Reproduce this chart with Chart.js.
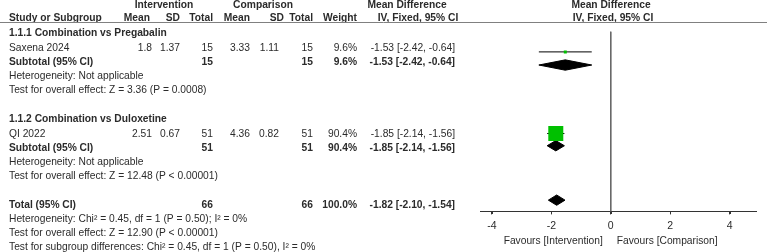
<!DOCTYPE html>
<html>
<head>
<meta charset="utf-8">
<script src="https://cdn.jsdelivr.net/npm/chart.js@4"></script>
<style>
  html, body { margin: 0; padding: 0; background: #fff; }
  canvas { display: block; }
</style>
</head>
<body>
<canvas id="forestPlot" width="767" height="252"></canvas>
<script>
// data
const subgroups = ['1.1.1 Combination vs Pregabalin', '1.1.2 Combination vs Duloxetine'];
const studies = ['Saxena 2024', 'QI 2022'];
const intMean = [1.8, 2.51];
const intSD = [1.37, 0.67];
const intTotal = [15, 51];
const cmpMean = [3.33, 4.36];
const cmpSD = [1.11, 0.82];
const cmpTotal = [15, 51];
const weights = [9.6, 90.4];
const meanDiff = [-1.53, -1.85];
const ciLow = [-2.42, -2.14];
const ciHigh = [-0.64, -1.56];
const subHeterogeneity = ['Heterogeneity: Not applicable', 'Heterogeneity: Not applicable'];
const subOverall = ['Test for overall effect: Z = 3.36 (P = 0.0008)', 'Test for overall effect: Z = 12.48 (P < 0.00001)'];
const totalIntN = 66;
const totalCmpN = 66;
const totalWeight = 100.0;
const totalMd = -1.82;
const totalLow = -2.10;
const totalHigh = -1.54;
const totalNotes = [
  'Heterogeneity: Chi\u00b2 = 0.45, df = 1 (P = 0.50); I\u00b2 = 0%',
  'Test for overall effect: Z = 12.90 (P < 0.00001)',
  'Test for subgroup differences: Chi\u00b2 = 0.45, df = 1 (P = 0.50), I\u00b2 = 0%',
];
const xTicks = [-4, -2, 0, 2, 4];
const nullEffect = 0;
const favourLabels = ['Favours [Intervention]', 'Favours [Comparison]'];

// layout (pixel rows) and styles
const textRows = {
  head1: 5, head2: 18,
  sub: [33, 119], study: [48, 134], subtotal: [62, 148], het: [76, 162], overall: [90, 176],
  total: 205, notes: [219, 233, 247],
};
const markRows = { study: [44, 131], subtotal: [58, 144], total: [202] };
const headerLineY = 22.5;
const axisY = 214;
const squareSide = [3, 15];
const diamondHalf = 5.5;
const textColor = '#2b2b2b';
const green = '#00c000';
const fontFamily = '"Liberation Sans", Arial, sans-serif';
const fontSize = 10.25;
const regular = `${fontSize}px ${fontFamily}`;
const bold = `bold ${fontSize}px ${fontFamily}`;

const fmtCi = (m, l, h) => `${m.toFixed(2)} [${l.toFixed(2)}, ${h.toFixed(2)}]`;

const datasets = [];

// study squares
datasets.push({
  type: 'scatter',
  order: 0,
  data: meanDiff.map((m, i) => ({ x: m, y: markRows.study[i] })),
  pointStyle: 'rect',
  pointRadius: squareSide.map((s) => s / (2 * Math.SQRT1_2)),
  pointBackgroundColor: green,
  pointBorderWidth: 0,
  showLine: false,
});

// confidence interval whiskers
studies.forEach((s, i) => {
  datasets.push({
    type: 'line',
    order: 1,
    data: [{ x: ciLow[i], y: markRows.study[i] }, { x: ciHigh[i], y: markRows.study[i] }],
    borderColor: '#000',
    borderWidth: 1,
    pointRadius: 0,
  });
});

// subtotal and total diamonds
const diamonds = meanDiff.map((m, i) => ({ m, l: ciLow[i], h: ciHigh[i], y: markRows.subtotal[i] }));
diamonds.push({ m: totalMd, l: totalLow, h: totalHigh, y: markRows.total[0] });
diamonds.forEach((d) => {
  datasets.push({
    type: 'line',
    order: 2,
    data: [
      { x: d.l, y: d.y },
      { x: d.m, y: d.y - diamondHalf },
      { x: d.h, y: d.y },
      { x: d.m, y: d.y + diamondHalf },
      { x: d.l, y: d.y },
    ],
    borderColor: '#000',
    backgroundColor: '#000',
    borderWidth: 1,
    fill: 'shape',
    pointRadius: 0,
    tension: 0,
  });
});

// line of no effect
datasets.push({
  type: 'line',
  order: 3,
  data: [{ x: nullEffect, y: headerLineY }, { x: nullEffect, y: axisY }],
  borderColor: '#666',
  borderWidth: 1,
  pointRadius: 0,
});

const tablePlugin = {
  id: 'tablePlugin',
  afterDraw(chart) {
    const { ctx } = chart;
    const x = chart.scales.x;
    const put = (text, px, py, align, font) => {
      ctx.font = font || regular;
      ctx.textAlign = align || 'left';
      ctx.fillText(text, px, py);
    };
    ctx.save();
    ctx.fillStyle = textColor;
    ctx.textBaseline = 'middle';

    // header
    put('Intervention', 164, textRows.head1, 'center', bold);
    put('Comparison', 263, textRows.head1, 'center', bold);
    put('Mean Difference', 407, textRows.head1, 'center', bold);
    put('Mean Difference', 611, textRows.head1, 'center', bold);
    put('Study or Subgroup', 9, textRows.head2, 'left', bold);
    put('Mean', 150, textRows.head2, 'right', bold);
    put('SD', 180, textRows.head2, 'right', bold);
    put('Total', 213, textRows.head2, 'right', bold);
    put('Mean', 250, textRows.head2, 'right', bold);
    put('SD', 284, textRows.head2, 'right', bold);
    put('Total', 313, textRows.head2, 'right', bold);
    put('Weight', 357, textRows.head2, 'right', bold);
    put('IV, Fixed, 95% CI', 418, textRows.head2, 'center', bold);
    put('IV, Fixed, 95% CI', 613, textRows.head2, 'center', bold);

    ctx.strokeStyle = '#808080';
    ctx.lineWidth = 1;
    ctx.beginPath();
    ctx.moveTo(0, headerLineY);
    ctx.lineTo(chart.width, headerLineY);
    ctx.stroke();

    subgroups.forEach((name, i) => {
      put(name, 9, textRows.sub[i], 'left', bold);
      const y = textRows.study[i];
      put(studies[i], 9, y);
      put(String(intMean[i]), 152, y, 'right');
      put(String(intSD[i]), 180, y, 'right');
      put(String(intTotal[i]), 213, y, 'right');
      put(String(cmpMean[i]), 250, y, 'right');
      put(String(cmpSD[i]), 279, y, 'right');
      put(String(cmpTotal[i]), 313, y, 'right');
      put(`${weights[i].toFixed(1)}%`, 357, y, 'right');
      put(fmtCi(meanDiff[i], ciLow[i], ciHigh[i]), 455, y, 'right');
      const sy = textRows.subtotal[i];
      put('Subtotal (95% CI)', 9, sy, 'left', bold);
      put(String(intTotal[i]), 213, sy, 'right', bold);
      put(String(cmpTotal[i]), 313, sy, 'right', bold);
      put(`${weights[i].toFixed(1)}%`, 357, sy, 'right', bold);
      put(fmtCi(meanDiff[i], ciLow[i], ciHigh[i]), 455, sy, 'right', bold);
      put(subHeterogeneity[i], 9, textRows.het[i]);
      put(subOverall[i], 9, textRows.overall[i]);
    });

    const ty = textRows.total;
    put('Total (95% CI)', 9, ty, 'left', bold);
    put(String(totalIntN), 213, ty, 'right', bold);
    put(String(totalCmpN), 313, ty, 'right', bold);
    put(`${totalWeight.toFixed(1)}%`, 357, ty, 'right', bold);
    put(fmtCi(totalMd, totalLow, totalHigh), 455, ty, 'right', bold);
    totalNotes.forEach((n, i) => put(n, 9, textRows.notes[i]));

    // tick marks crossing the axis, as in the source figure
    ctx.strokeStyle = '#333';
    ctx.beginPath();
    xTicks.forEach((v) => {
      const px = Math.round(x.getPixelForValue(v)) + 0.5;
      ctx.moveTo(px, axisY - 2);
      ctx.lineTo(px, axisY);
    });
    ctx.stroke();

    const zero = x.getPixelForValue(nullEffect);
    put(favourLabels[0], zero - 8, 241, 'right');
    put(favourLabels[1], zero + 6, 241, 'left');
    ctx.restore();
  },
};

const ctx = document.getElementById('forestPlot').getContext('2d');
// eslint-disable-next-line no-undef, no-unused-vars
const chart = new Chart(ctx, {
  type: 'scatter',
  data: { datasets },
  options: {
    responsive: false,
    animation: false,
    devicePixelRatio: 1,
    layout: { padding: { left: 480, right: 10, top: 0, bottom: 15 } },
    plugins: { legend: { display: false }, tooltip: { enabled: false } },
    scales: {
      x: {
        type: 'linear',
        min: -4.4,
        max: 4.9,
        afterBuildTicks: (scale) => {
          scale.ticks = xTicks.map((v) => ({ value: v }));
        },
        grid: { display: true, drawOnChartArea: false, drawTicks: true, tickLength: 3, color: '#333' },
        border: { display: true, color: '#333', width: 1 },
        ticks: { color: textColor, font: { family: fontFamily, size: 10.5 }, padding: 5, maxRotation: 0, autoSkip: false },
      },
      y: { type: 'linear', min: 0, max: axisY, reverse: true, display: false },
    },
  },
  plugins: [tablePlugin],
});
</script>
</body>
</html>
